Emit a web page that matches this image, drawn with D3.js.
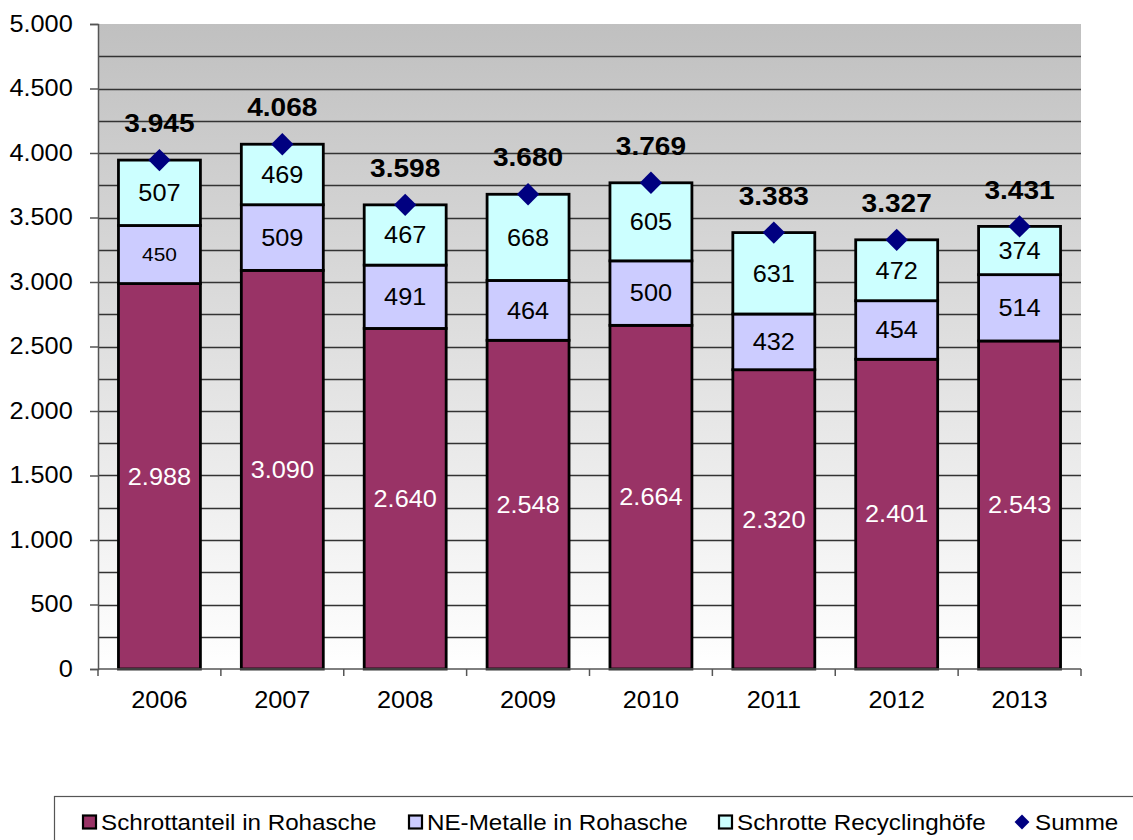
<!DOCTYPE html>
<html lang="de">
<head>
<meta charset="UTF-8" />
<title>Schrott und NE-Metalle</title>
<script src="https://cdnjs.cloudflare.com/ajax/libs/d3/7.8.5/d3.min.js"></script>
<style>
  body { margin: 0; background: #fff; }
  svg { display: block; font-family: Arial, "Liberation Sans", sans-serif; }
</style>
</head>
<body>
<svg id="chart" width="1133" height="840"></svg>
<script>
// Daten
const years = ["2006", "2007", "2008", "2009", "2010", "2011", "2012", "2013"];
const schrottRohasche = [2988, 3090, 2640, 2548, 2664, 2320, 2401, 2543];
const neMetalle = [450, 509, 491, 464, 500, 432, 454, 514];
const schrotteHoefe = [507, 469, 467, 668, 605, 631, 472, 374];
const summe = [3945, 4068, 3598, 3680, 3769, 3383, 3327, 3431];
const seriesNames = ["Schrottanteil in Rohasche", "NE-Metalle in Rohasche", "Schrotte Recyclinghöfe", "Summe"];
const yTicks = [0, 500, 1000, 1500, 2000, 2500, 3000, 3500, 4000, 4500, 5000];

const colors = ["#993366", "#ccccff", "#ccffff"];
const fmt = d3.formatLocale({ decimal: ",", thousands: ".", grouping: [3], currency: ["", "€"] }).format(",");

const svg = d3.select("#chart");
const plotL = 98, plotR = 1081, plotT = 24, plotB = 669;
// Schrift im Original ist etwas in die Breite gezogen
const SX = 1.1;

const x = d3.scaleBand().domain(years).range([plotL, plotR]).padding(0);
const y = d3.scaleLinear().domain([0, 5000]).range([plotB, plotT]);
const barW = x.bandwidth() * 0.667;
const cx = yr => x(yr) + x.bandwidth() / 2;

function place(sel, fx, fy) {
  return sel.attr("transform", (d, i) => `translate(${fx(d, i)},${fy(d, i)}) scale(${SX},1)`);
}

// Hintergrund mit Verlauf
const grad = svg.append("defs").append("linearGradient")
  .attr("id", "bg").attr("x1", 0).attr("y1", 0).attr("x2", 0).attr("y2", 1);
grad.append("stop").attr("offset", "0%").attr("stop-color", "#c0c0c0");
grad.append("stop").attr("offset", "100%").attr("stop-color", "#ffffff");

svg.append("rect")
  .attr("x", plotL).attr("y", plotT)
  .attr("width", plotR - plotL).attr("height", plotB - plotT)
  .attr("fill", "url(#bg)");

// Gitterlinien alle 250
svg.append("g")
  .selectAll("line")
  .data(d3.range(250, 5000, 250))
  .join("line")
  .attr("x1", plotL).attr("x2", plotR)
  .attr("y1", d => Math.round(y(d)) + 0.5).attr("y2", d => Math.round(y(d)) + 0.5)
  .attr("stroke", "#333").attr("stroke-width", 1.3);

// Stapel
const rows = years.map((yr, i) => ({ year: yr, s0: schrottRohasche[i], s1: neMetalle[i], s2: schrotteHoefe[i] }));
const stacked = d3.stack().keys(["s0", "s1", "s2"])(rows);

const layers = svg.append("g").selectAll("g")
  .data(stacked)
  .join("g")
  .attr("fill", (d, i) => colors[i]);

layers.selectAll("rect")
  .data(d => d)
  .join("rect")
  .attr("x", d => cx(d.data.year) - barW / 2)
  .attr("y", d => y(d[1]))
  .attr("width", barW)
  .attr("height", d => y(d[0]) - y(d[1]))
  .attr("stroke", "#000")
  .attr("stroke-width", 2.8);

// Beschriftungen in den Balken
stacked.forEach((layer, li) => {
  place(svg.append("g").selectAll("text")
    .data(layer)
    .join("text"),
    d => cx(d.data.year), d => (y(d[0]) + y(d[1])) / 2)
    .attr("dy", "0.36em")
    .attr("text-anchor", "middle")
    .attr("font-size", (d, i) => (li === 1 && i === 0 ? 19 : 23))
    .attr("fill", li === 0 ? "#fff" : "#000")
    .text(d => fmt(d[1] - d[0]));
});

// Summe (Rauten)
svg.append("g").selectAll("path")
  .data(summe)
  .join("path")
  .attr("transform", (d, i) => `translate(${cx(years[i])},${y(d)}) rotate(45)`)
  .attr("d", d3.symbol().type(d3.symbolSquare).size(250))
  .attr("fill", "#000080");

place(svg.append("g").selectAll("text")
  .data(summe)
  .join("text"),
  (d, i) => cx(years[i]), d => y(d) - 37)
  .attr("dy", "0.36em")
  .attr("text-anchor", "middle")
  .attr("font-size", 25.5)
  .attr("font-weight", "bold")
  .attr("fill", "#000")
  .text(d => fmt(d));

// Achsen
const yAxis = svg.append("g")
  .attr("transform", `translate(${plotL},0)`)
  .call(d3.axisLeft(y).tickValues(yTicks).tickFormat(fmt).tickSize(8).tickPadding(15));
yAxis.select(".domain").attr("stroke", "#555").attr("stroke-width", 1.5);
yAxis.selectAll(".tick line").attr("stroke", "#555").attr("stroke-width", 1.5);
yAxis.selectAll(".tick text")
  .attr("font-size", 23)
  .attr("font-family", "Arial, 'Liberation Sans', sans-serif")
  .attr("fill", "#000")
  .attr("transform", `scale(${SX},1)`);

svg.append("line")
  .attr("x1", plotL).attr("x2", plotR).attr("y1", plotB).attr("y2", plotB)
  .attr("stroke", "#555").attr("stroke-width", 1.5);

svg.append("g").selectAll("line")
  .data(years.map(yr => x(yr)).concat([plotR]))
  .join("line")
  .attr("x1", d => d).attr("x2", d => d)
  .attr("y1", plotB).attr("y2", plotB + 7)
  .attr("stroke", "#555").attr("stroke-width", 1.5);

place(svg.append("g").selectAll("text")
  .data(years)
  .join("text"),
  d => cx(d), () => 700)
  .attr("dy", "0.36em")
  .attr("text-anchor", "middle")
  .attr("font-size", 23)
  .text(d => d);

// Legende
svg.append("rect")
  .attr("x", 54.5).attr("y", 796.5)
  .attr("width", 1090).attr("height", 60)
  .attr("fill", "#fff").attr("stroke", "#555").attr("stroke-width", 1.2);

const legendX = [83, 409, 719, 1013];
const leg = svg.append("g").selectAll("g")
  .data(seriesNames)
  .join("g")
  .attr("transform", (d, i) => `translate(${legendX[i]},822)`);

leg.filter((d, i) => i < 3).append("rect")
  .attr("x", 0).attr("y", -6.5).attr("width", 13).attr("height", 13)
  .attr("fill", (d, i) => colors[i]).attr("stroke", "#000").attr("stroke-width", 2.2);

leg.filter((d, i) => i === 3).append("path")
  .attr("transform", "translate(9,0) rotate(45)")
  .attr("d", d3.symbol().type(d3.symbolSquare).size(110))
  .attr("fill", "#000080");

place(leg.append("text"), (d, i) => (i === 3 ? 22 : 18), () => 0)
  .attr("dy", "0.36em")
  .attr("font-size", 22)
  .text(d => d);
</script>
</body>
</html>
